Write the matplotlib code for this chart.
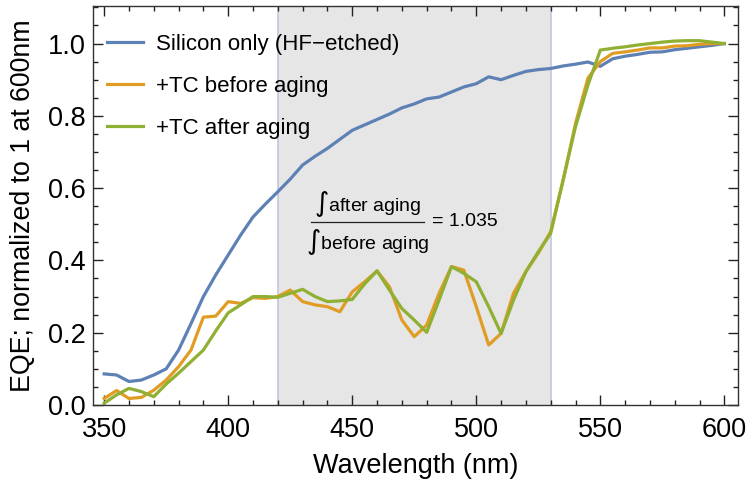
import numpy as np
import matplotlib
matplotlib.use("Agg")
import matplotlib.pyplot as plt
from matplotlib.ticker import MultipleLocator, FormatStrFormatter
from matplotlib.lines import Line2D

plt.rcParams['font.family'] = ['Liberation Sans', 'DejaVu Sans']
plt.rcParams['mathtext.fontset'] = 'dejavusans'

# Wavelength grid (nm)
wavelength = list(range(350, 601, 5))

# EQE normalised to 1 at 600 nm
silicon_only = [0.086, 0.083, 0.065, 0.069, 0.083, 0.100, 0.152, 0.225, 0.300, 0.360,
                0.415, 0.470, 0.520, 0.556, 0.590, 0.625, 0.664, 0.688, 0.710, 0.735,
                0.760, 0.775, 0.790, 0.805, 0.822, 0.833, 0.847, 0.852, 0.866, 0.880,
                0.889, 0.908, 0.900, 0.912, 0.923, 0.928, 0.931, 0.938, 0.943, 0.949,
                0.937, 0.958, 0.965, 0.970, 0.976, 0.977, 0.983, 0.987, 0.991, 0.995,
                1.000]

tc_before = [0.018, 0.040, 0.018, 0.021, 0.041, 0.069, 0.106, 0.152, 0.243, 0.246,
             0.286, 0.281, 0.297, 0.295, 0.300, 0.318, 0.286, 0.277, 0.272, 0.258,
             0.313, 0.341, 0.371, 0.327, 0.235, 0.189, 0.221, 0.309, 0.383, 0.373,
             0.272, 0.166, 0.198, 0.309, 0.369, 0.420, 0.480, 0.622, 0.779, 0.904,
             0.950, 0.973, 0.977, 0.982, 0.988, 0.988, 0.993, 0.994, 0.998, 1.000,
             1.000]

tc_after = [0.005, 0.028, 0.046, 0.037, 0.023, 0.058, 0.088, 0.120, 0.152, 0.205,
            0.255, 0.277, 0.300, 0.300, 0.298, 0.309, 0.320, 0.300, 0.286, 0.288,
            0.292, 0.335, 0.371, 0.318, 0.267, 0.235, 0.201, 0.290, 0.383, 0.364,
            0.341, 0.272, 0.198, 0.290, 0.369, 0.424, 0.475, 0.622, 0.770, 0.885,
            0.982, 0.987, 0.991, 0.996, 1.000, 1.004, 1.007, 1.008, 1.008, 1.004,
            1.000]

series_labels = ["Silicon only (HF\u2212etched)", "+TC before aging", "+TC after aging"]
series_colors = ["#5E81B5", "#E19C24", "#8FB032"]

integration_window = (420, 530)
ratio_value = 1.035

W, H = 750, 490
fig = plt.figure(figsize=(W / 100, H / 100), dpi=100)
ax = fig.add_axes([0.124, 0.1735, 0.86, 0.8143])

# integration window
ax.axvspan(*integration_window, facecolor="#E6E6E6", edgecolor="none", zorder=0)
for edge in integration_window:
    ax.axvline(edge, color="#C3C6DE", lw=1.2, zorder=0.5)

for vals, lab, col in zip([silicon_only, tc_before, tc_after], series_labels, series_colors):
    ax.plot(wavelength, vals, color=col, lw=2.3, label=lab)

ax.set_xlim(345.5, 605.5)
ax.set_ylim(0, 1.104)
ax.xaxis.set_major_locator(MultipleLocator(50))
ax.xaxis.set_minor_locator(MultipleLocator(10))
ax.yaxis.set_major_locator(MultipleLocator(0.2))
ax.yaxis.set_minor_locator(MultipleLocator(0.05))
ax.yaxis.set_major_formatter(FormatStrFormatter("%.1f"))
ax.tick_params(which="both", direction="in", top=True, right=True, labelsize=19.5,
               color="#222222", width=1.0)
ax.tick_params(which="major", length=7.5)
ax.tick_params(which="minor", length=3.8)
ax.tick_params(axis="x", which="major", pad=8.5)
ax.tick_params(axis="y", which="major", pad=5)
for sp in ax.spines.values():
    sp.set_color("#333333")
    sp.set_linewidth(1.0)

ax.set_xlabel("Wavelength (nm)", fontsize=19.5, labelpad=7)
ax.set_ylabel("EQE; normalized to 1 at 600nm", fontsize=19.3, labelpad=9)

ax.legend(loc="upper left", bbox_to_anchor=(-0.021, 1.0), frameon=False, fontsize=16,
          handlelength=1.6, handletextpad=0.6, labelspacing=0.95,
          borderaxespad=0.85, borderpad=0.4)

# ratio of integrals over the window
fx0, fx1 = 311, 424
fy = 222
xc = (fx0 + fx1) / 2 / W
fig.text(xc, (H - 204) / H, r"$\int$after aging", ha="center", va="center", fontsize=14)
fig.text(xc, (H - 242) / H, r"$\int$before aging", ha="center", va="center", fontsize=14)
fig.add_artist(Line2D([fx0 / W, fx1 / W], [(H - fy) / H] * 2, color="#222222", lw=0.9,
                      transform=fig.transFigure))
fig.text(432 / W, (H - fy) / H, f"= {ratio_value:.3f}", ha="left", va="center", fontsize=14)

fig.savefig("out.png", dpi=100)
